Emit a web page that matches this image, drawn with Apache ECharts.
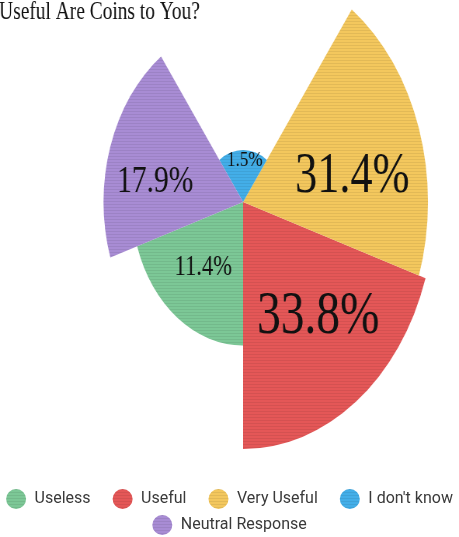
<!DOCTYPE html>
<html>
<head>
<meta charset="utf-8">
<title>How Useful Are Coins to You?</title>
<script src="https://cdn.jsdelivr.net/npm/echarts@6/dist/echarts.min.js"></script>
<style>
  html, body { margin: 0; padding: 0; background: #fff; overflow: hidden; }
  #stage { position: relative; width: 459px; height: 537px; overflow: hidden; }
  /* the rose is drawn wide and compressed horizontally */
  #rose { position: absolute; left: 0; top: 0; width: 591px; height: 537px;
          transform: scaleX(0.7766); transform-origin: 0 0; }
  #key { position: absolute; left: 0; top: 0; width: 459px; height: 537px; }
</style>
</head>
<body>
<div id="stage">
  <div id="rose"></div>
  <div id="key"></div>
</div>
<script>
// Survey answers and their share of respondents (%)
const categories = ['Useless', 'Useful', 'Very Useful', "I don't know", 'Neutral Response'];
const shares = [11.4, 33.8, 31.4, 1.5, 17.9];

// Presentation settings
const sliceColors = ['#7cc796', '#e45757', '#f3c75d', '#43aee8', '#a88cd4'];
const labelSizes = [29, 61, 57, 22, 38];
const labelReach = [0.58, 0.61, 0.60, 0.81, 0.64];   // label distance as fraction of slice radius
const labelTurn = [-2, 4, -8, -3, 8];                // label angle offset from slice middle (deg)

const CX = 313, CY = 202, R_MAX = 247;
const START = 198, STEP = 360 / categories.length;

// Canvas-like weave on every slice
const weave = {
  symbol: 'rect',
  symbolSize: 1,
  dashArrayX: [[1, 0]],
  dashArrayY: [1, 2],
  color: 'rgba(0,0,0,0.07)'
};

// Radius follows the square root of the share so that slice area tracks the value
const radiusOf = v => Math.sqrt(v);
const maxRadiusValue = Math.max(...shares.map(radiusOf));

function sliceData() {
  return categories.map((name, i) => ({
    name: name,
    value: radiusOf(shares[i]),
    itemStyle: { color: sliceColors[i], decal: weave },
    label: { fontSize: labelSizes[i] }
  }));
}

const rose = echarts.init(document.getElementById('rose'));
rose.setOption({
  animation: false,
  backgroundColor: '#fff',
  title: {
    text: 'How Useful Are Coins to You?',
    left: -56,
    top: 0,
    padding: 0,
    textStyle: { fontFamily: 'Liberation Serif', fontWeight: 'normal', fontSize: 25, color: '#111' }
  },
  series: [{
    type: 'pie',
    roseType: 'area',
    center: [CX, CY],
    radius: [0, R_MAX],
    startAngle: START,
    clockwise: false,
    avoidLabelOverlap: false,
    silent: true,
    data: sliceData(),
    label: {
      show: true,
      position: 'inside',
      fontFamily: 'Liberation Serif',
      color: '#111',
      formatter: p => shares[p.dataIndex].toFixed(1) + '%'
    },
    labelLine: { show: false },
    labelLayout: function (p) {
      const i = p.dataIndex;
      const sliceR = R_MAX * radiusOf(shares[i]) / maxRadiusValue;
      const a = (START + STEP / 2 + STEP * i + labelTurn[i]) * Math.PI / 180;
      const r = sliceR * labelReach[i];
      return { x: CX + r * Math.cos(a), y: CY - r * Math.sin(a), align: 'center', verticalAlign: 'middle' };
    }
  }]
});

// Legend drawn at natural width; its pie only supplies the entries
const key = echarts.init(document.getElementById('key'));
const legendText = { fontFamily: 'Roboto', fontSize: 16, color: '#3a3a3a' };
key.setOption({
  animation: false,
  legend: [
    {
      data: categories.slice(0, 4),
      left: 'center', top: 489,
      icon: 'circle', itemWidth: 27, itemHeight: 20, itemGap: 22,
      padding: 0, selectedMode: false, textStyle: legendText
    },
    {
      data: categories.slice(4),
      left: 'center', top: 515,
      icon: 'circle', itemWidth: 27, itemHeight: 20,
      padding: 0, selectedMode: false, textStyle: legendText
    }
  ],
  series: [{
    type: 'pie',
    center: [-1000, -1000],
    radius: 1,
    silent: true,
    label: { show: false },
    data: sliceData()
  }]
});
</script>
</body>
</html>
